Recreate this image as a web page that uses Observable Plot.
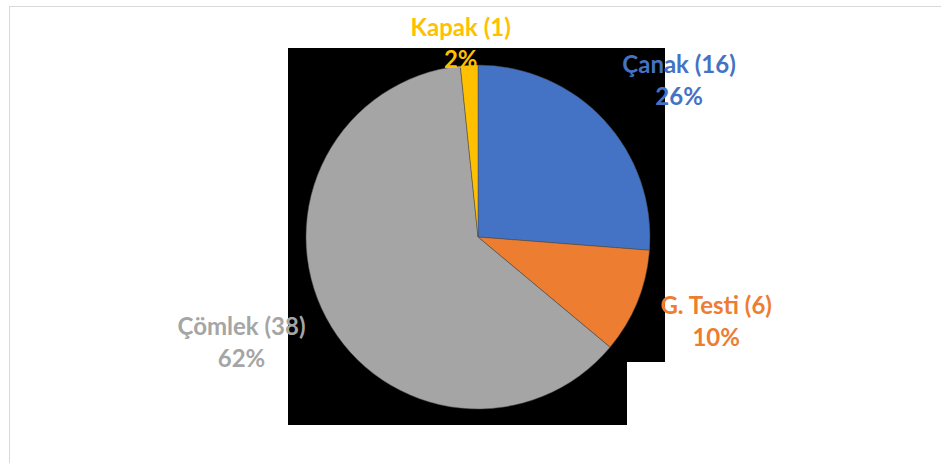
<!DOCTYPE html>
<html><head><meta charset="utf-8">
<script src="https://cdn.jsdelivr.net/npm/d3@7"></script>
<script src="https://cdn.jsdelivr.net/npm/@observablehq/plot@0.6"></script>
<style>
html,body{margin:0;padding:0;background:#fff;width:941px;height:463px;overflow:hidden;}
#wrap{position:relative;width:941px;height:463px;overflow:hidden;}
.frame{position:absolute;left:9px;top:6px;width:960px;height:480px;border-top:1px solid #d9d9d9;border-left:1px solid #d9d9d9;box-sizing:border-box;}
.bg{position:absolute;background:#000;}
#chart{position:absolute;left:0;top:0;}
</style></head><body>
<div id="wrap">
<div class="frame"></div>
<div class="bg" style="left:288px;top:48px;width:377px;height:314px"></div>
<div class="bg" style="left:288px;top:362px;width:339px;height:63px"></div>
<div id="chart"></div>
</div>
<script>
// Data
const categories = ["Çanak", "G. Testi", "Çömlek", "Kapak"];
const counts = [16, 6, 38, 1];
const colors = ["#4472C4", "#ED7D31", "#A5A5A5", "#FFC000"];

// Layout
const CX = 478, CY = 237, RAD = 172;
const FONT_SIZE = 24, LINE_H = 32;
const LABEL_RX = 196, LABEL_RY = 203, LABEL_DY = -4, TOP_LIMIT = 16;

const rows = categories.map((c, i) => ({category: c, count: counts[i]}));
const total = d3.sum(counts);
const arcs = d3.pie().sort(null).value(d => d.count).startAngle(0).endAngle(2 * Math.PI)(rows);

const ctx = document.createElement("canvas").getContext("2d");
ctx.font = `bold ${FONT_SIZE}px Lato`;

const labels = arcs.map(a => {
  const pct = Math.round(a.data.count / total * 100);
  const lines = [`${a.data.category} (${a.data.count})`, `${pct}%`];
  const w = d3.max(lines, l => ctx.measureText(l).width);
  const hw = w / 2, hh = LINE_H * 0.78;
  const mid = (a.startAngle + a.endAngle) / 2;
  const ux = Math.sin(mid), uy = -Math.cos(mid); // pixel space, y down
  const sx = Math.max(-1, Math.min(1, 3 * ux));
  let px = CX + LABEL_RX * ux + sx * hw;
  let py = CY + (LABEL_RY + hh) * uy + LABEL_DY;
  if (py - hh < TOP_LIMIT) py = TOP_LIMIT + hh;
  return {
    category: a.data.category,
    text: lines.join("\n"),
    x: (px - CX) / RAD,
    y: -(py - CY) / RAD
  };
});

function pieMark(index, scales) {
  const cx = scales.x(0), cy = scales.y(0), r = scales.x(1) - scales.x(0);
  const color = scales.color || (c => colors[categories.indexOf(c)]);
  const g = d3.create("svg:g").attr("transform", `translate(${cx},${cy})`);
  const arc = d3.arc().innerRadius(0).outerRadius(r);
  g.selectAll("path").data(arcs).join("path")
    .attr("d", arc)
    .attr("fill", d => color(d.data.category))
    .attr("stroke", "#4a4a4a")
    .attr("stroke-width", 0.5);
  return g.node();
}

const chart = Plot.plot({
  width: 941,
  height: 463,
  margin: 0,
  style: {background: "transparent", overflow: "visible"},
  x: {domain: [-1, 1], range: [CX - RAD, CX + RAD], axis: null},
  y: {domain: [-1, 1], range: [CY + RAD, CY - RAD], axis: null},
  color: {domain: categories, range: colors},
  marks: [
    pieMark,
    Plot.text(labels, {
      x: "x", y: "y", text: "text", fill: "category",
      fontSize: FONT_SIZE, fontWeight: "bold", fontFamily: "Lato",
      lineHeight: LINE_H / FONT_SIZE, textAnchor: "middle", lineAnchor: "middle"
    })
  ]
});
document.getElementById("chart").appendChild(chart);
</script>
</body></html>
